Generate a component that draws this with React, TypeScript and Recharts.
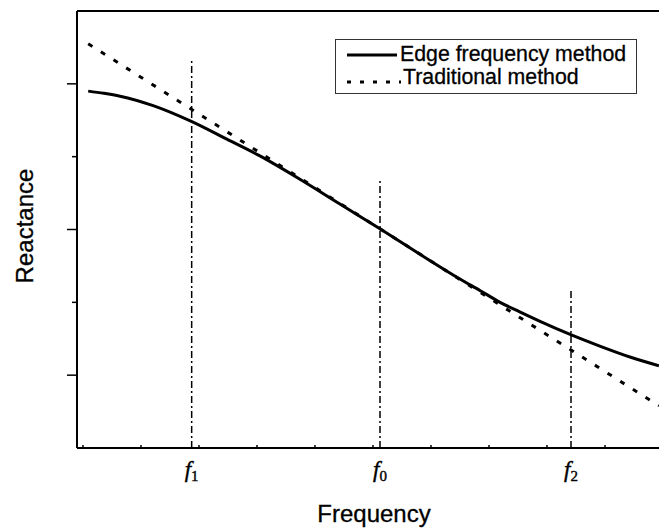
import React from 'react'
import { LineChart, Line, XAxis, YAxis, ReferenceLine, Legend, Label } from 'recharts'

// frequency axis: one unit per minor tick, reactance axis: one unit per half major tick
const edgeX = [0.09, 0.36, 0.64, 1.21, 1.85, 2.48, 3.05, 3.74, 4.43, 5.12, 5.81, 6.5, 6.85, 7.19, 7.53, 7.88, 8.43, 8.91, 9.43, 9.93]
const edgeY = [4.9, 4.87, 4.83, 4.7, 4.49, 4.24, 4.01, 3.69, 3.35, 3.01, 2.66, 2.32, 2.16, 2.0, 1.87, 1.74, 1.55, 1.4, 1.25, 1.13]

const tradX = [0.09, 5.12, 9.93]
const tradY = [5.55, 3.01, 0.58]

const markNames = ['1', '0', '2']
const markX = [1.874, 5.121, 8.414]
const markTop = [5.33, 3.68, 2.17]

const minorTicksX = [0, 1, 2, 3, 4, 5, 6, 7, 8, 9]
const ticksY = [1, 2, 3, 4, 5]
const majorY = [1, 3, 5]

const edgeData = edgeX.map((x, i) => ({ x, y: edgeY[i] }))
const tradData = tradX.map((x, i) => ({ x, y: tradY[i] }))

const sans = 'Arial, "Liberation Sans", sans-serif'
const serif = '"Times New Roman", "Liberation Serif", serif'

const BottomTick = ({ x, y, payload }: any) => {
  const idx = markX.indexOf(payload.value)
  if (idx < 0) {
    return <line x1={x} x2={x} y1={y} y2={y - 3} stroke="#000" strokeWidth={1.5} />
  }
  return (
    <text x={x} y={y + 29} textAnchor="middle" fontFamily={serif} fontStyle="italic" fontSize={23}
      fill="#000" stroke="#000" strokeWidth={0.4}>
      f
      <tspan fontStyle="normal" fontSize={15} dy={4}>{markNames[idx]}</tspan>
    </text>
  )
}

const TopTick = ({ x, y }: any) => (
  <line x1={x} x2={x} y1={y} y2={y + 2} stroke="#000" strokeWidth={1.5} />
)

const LeftTick = ({ x, y, payload }: any) => {
  const len = majorY.includes(payload.value) ? 10 : 5
  return <line x1={x - len} x2={x} y1={y} y2={y} stroke="#000" strokeWidth={1.5} />
}

const LegendBox = () => (
  <svg width={302} height={55} style={{ display: 'block' }}>
    <rect x={0.5} y={0.5} width={301} height={54} fill="#fff" stroke="#333" strokeWidth={1} />
    <line x1={12} x2={62} y1={16} y2={16} stroke="#000" strokeWidth={3} />
    <text x={65} y={22} fontFamily={sans} fontSize={21.3} fill="#000" stroke="#000" strokeWidth={0.3}>
      Edge frequency method
    </text>
    <line x1={12} x2={66} y1={43} y2={43} stroke="#000" strokeWidth={3} strokeDasharray="4 9" />
    <text x={68} y={45} fontFamily={sans} fontSize={21.3} fill="#000" stroke="#000" strokeWidth={0.3}>
      Traditional method
    </text>
  </svg>
)

export default function App() {
  return (
    <div style={{ position: 'absolute', left: 0, top: 0, background: '#fff' }}>
      <LineChart width={659} height={531} margin={{ top: 10, right: 0, left: 76, bottom: 82 }}>
        <XAxis
          dataKey="x"
          type="number"
          domain={[-0.103, 9.931]}
          allowDataOverflow
          ticks={[...minorTicksX, ...markX]}
          interval={0}
          height={1}
          tickSize={0}
          tickMargin={0}
          tickLine={false}
          tick={<BottomTick />}
          axisLine={{ stroke: '#000', strokeWidth: 2 }}
        >
          <Label
            content={() => (
              <text x={374} y={522} textAnchor="middle" fontFamily={sans} fontSize={24} fill="#000"
                stroke="#000" strokeWidth={0.3}>
                Frequency
              </text>
            )}
          />
        </XAxis>
        <XAxis
          xAxisId="top"
          orientation="top"
          type="number"
          domain={[-0.103, 9.931]}
          ticks={minorTicksX}
          interval={0}
          height={1}
          tickSize={0}
          tickMargin={0}
          tickLine={false}
          tick={<TopTick />}
          axisLine={{ stroke: '#000', strokeWidth: 2 }}
        />
        <YAxis
          type="number"
          domain={[0, 6]}
          ticks={ticksY}
          interval={0}
          width={1}
          tickSize={0}
          tickMargin={0}
          tickLine={false}
          tick={<LeftTick />}
          axisLine={{ stroke: '#000', strokeWidth: 2 }}
        >
          <Label
            content={() => (
              <text
                x={33}
                y={226}
                transform="rotate(-90, 33, 226)"
                textAnchor="middle"
                fontFamily={sans}
                fontSize={24}
                fill="#000"
                stroke="#000"
                strokeWidth={0.3}
              >
                Reactance
              </text>
            )}
          />
        </YAxis>
        {markX.map((fx, i) => (
          <ReferenceLine
            key={i}
            segment={[{ x: fx, y: 0 }, { x: fx, y: markTop[i] }]}
            stroke="#000"
            strokeWidth={1.5}
            strokeDasharray="7 3 2 3"
          />
        ))}
        <Line
          data={tradData}
          dataKey="y"
          name="Traditional method"
          stroke="#000"
          strokeWidth={3}
          strokeDasharray="5 10"
          dot={false}
          activeDot={false}
          isAnimationActive={false}
        />
        <Line
          data={edgeData}
          dataKey="y"
          type="monotone"
          name="Edge frequency method"
          stroke="#000"
          strokeWidth={3}
          dot={false}
          activeDot={false}
          isAnimationActive={false}
        />
        <Legend
          verticalAlign="middle"
          align="center"
          content={<LegendBox />}
          wrapperStyle={{ left: 335, top: 39, width: 302, height: 55 }}
        />
      </LineChart>
    </div>
  )
}
